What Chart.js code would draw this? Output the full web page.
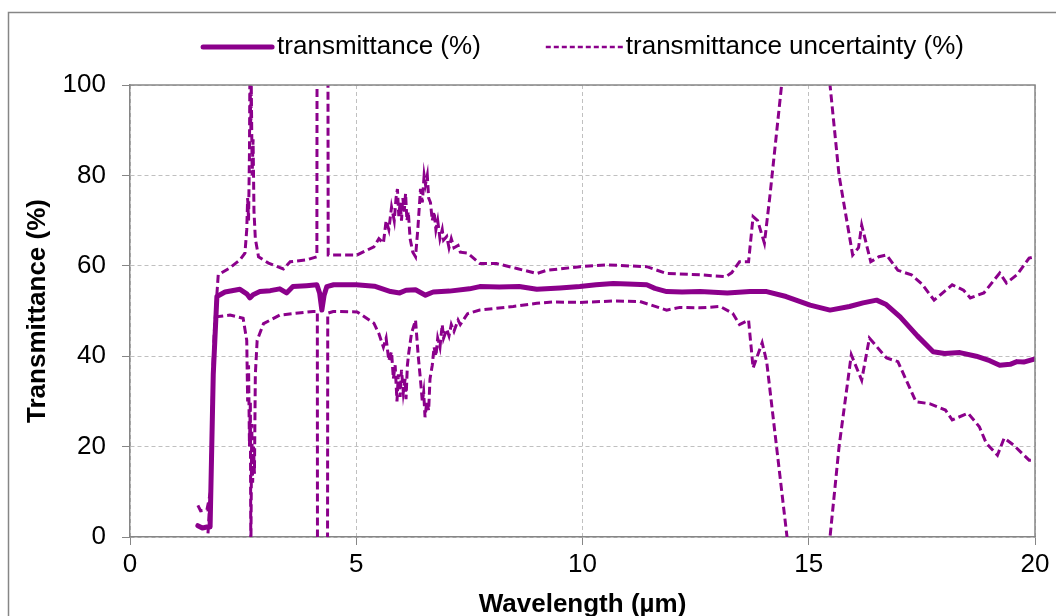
<!DOCTYPE html>
<html>
<head>
<meta charset="utf-8">
<script src="https://cdn.jsdelivr.net/npm/chart.js@4"></script>
<style>
  html, body { margin: 0; padding: 0; background: #fff; overflow: hidden; }
  #wrap { width: 1056px; height: 640px; }
</style>
</head>
<body>
<div id="wrap"><canvas id="chart"></canvas></div>
<script>
// transmittance curve
const transWl  = [1.50, 1.60, 1.70, 1.77, 1.84, 1.92, 2.10, 2.43, 2.58, 2.65, 2.72, 2.87, 3.10, 3.31, 3.46, 3.60, 3.90, 4.13, 4.19, 4.24, 4.29, 4.35, 4.50, 5.00, 5.40, 5.76, 5.96, 6.10, 6.31, 6.53, 6.70, 7.06, 7.50, 7.73, 8.16, 8.60, 8.99, 9.50, 9.94, 10.30, 10.68, 11.00, 11.42, 11.60, 11.86, 12.20, 12.60, 13.20, 13.70, 14.07, 14.50, 15.03, 15.47, 15.90, 16.20, 16.50, 16.70, 17.02, 17.40, 17.75, 18.00, 18.34, 18.70, 19.00, 19.22, 19.45, 19.60, 19.75, 20.00];
const transVal = [2.5, 2.0, 2.2, 2.2, 36, 53.2, 54.2, 54.8, 53.8, 52.9, 53.6, 54.3, 54.5, 54.9, 54.0, 55.4, 55.6, 55.8, 54.0, 50.2, 53.5, 55.4, 55.8, 55.8, 55.5, 54.3, 54.0, 54.6, 54.7, 53.5, 54.2, 54.4, 54.9, 55.4, 55.3, 55.4, 54.8, 55.1, 55.4, 55.8, 56.1, 56.0, 55.8, 55.0, 54.3, 54.2, 54.3, 54.0, 54.3, 54.3, 53.2, 51.3, 50.2, 51.0, 51.8, 52.4, 51.5, 48.7, 44.5, 41.0, 40.6, 40.8, 40.0, 39.0, 38.0, 38.2, 38.8, 38.7, 39.4];

// upper bound of uncertainty band
const upperWl  = [1.50, 1.56, 1.70, 1.78, 1.86, 1.95, 2.20, 2.43, 2.54, 2.58, 2.60, 2.62, 2.64, 2.65, 2.67, 2.68, 2.70, 2.72, 2.74, 2.77, 2.84, 3.06, 3.39, 3.54, 3.90, 4.13, 4.15, 4.35, 4.38, 5.02, 5.39, 5.50, 5.60, 5.66, 5.72, 5.78, 5.84, 5.88, 5.91, 5.94, 5.97, 6.00, 6.03, 6.06, 6.09, 6.12, 6.15, 6.19, 6.25, 6.31, 6.36, 6.42, 6.46, 6.50, 6.53, 6.57, 6.60, 6.64, 6.68, 6.72, 6.76, 6.80, 6.85, 6.90, 6.93, 7.00, 7.05, 7.10, 7.16, 7.25, 7.30, 7.46, 7.73, 8.10, 8.55, 8.99, 9.21, 9.94, 10.53, 11.42, 11.86, 12.60, 13.17, 13.30, 13.47, 13.67, 13.77, 13.87, 14.02, 14.14, 14.40, 14.95, 15.47, 15.67, 15.97, 16.10, 16.17, 16.37, 16.55, 16.72, 16.97, 17.27, 17.50, 17.77, 18.17, 18.42, 18.57, 18.87, 19.22, 19.37, 19.60, 19.87, 20.00];
const upperVal = [7.0, 5.8, 6.0, 10, 45, 58.0, 59.5, 61.3, 62.8, 68, 75, 70, 85, 104, 90, 100, 80, 88, 72, 66, 62.0, 60.6, 59.3, 60.9, 61.3, 62.0, 300, 300, 62.4, 62.4, 64.2, 66, 65, 70, 68, 73, 70, 75, 77, 71, 74, 70, 75, 72, 76, 70, 72, 66, 63, 62, 68, 77, 74, 80, 78, 80, 75, 74, 70, 72, 68, 70, 66, 68, 65.7, 66.5, 64, 66, 64, 64.5, 63, 62.8, 60.5, 60.5, 59.4, 58.3, 59.0, 59.8, 60.2, 59.8, 58.3, 58.0, 57.6, 58.5, 60.9, 60.9, 70.9, 70.0, 65.0, 75.3, 100, 160, 100, 80, 62.4, 64, 69, 60.9, 62.0, 62.4, 59.0, 58.0, 56.0, 52.4, 55.8, 54.6, 52.9, 54.0, 58.4, 56.2, 58.0, 61.7, 62.0];

// lower bound of uncertainty band
const lowerWl  = [1.55, 1.70, 1.78, 1.84, 1.90, 2.21, 2.50, 2.58, 2.60, 2.62, 2.64, 2.66, 2.67, 2.69, 2.71, 2.73, 2.75, 2.77, 2.81, 2.95, 3.31, 4.05, 4.14, 4.16, 4.34, 4.37, 4.49, 5.02, 5.39, 5.50, 5.60, 5.66, 5.72, 5.78, 5.82, 5.86, 5.90, 5.93, 5.97, 6.00, 6.04, 6.08, 6.10, 6.13, 6.16, 6.22, 6.31, 6.37, 6.42, 6.46, 6.49, 6.52, 6.56, 6.60, 6.63, 6.68, 6.72, 6.76, 6.80, 6.85, 6.90, 6.93, 7.00, 7.05, 7.10, 7.16, 7.25, 7.30, 7.46, 7.73, 8.47, 8.99, 9.35, 9.94, 10.68, 11.27, 11.86, 12.15, 12.60, 13.04, 13.32, 13.47, 13.67, 13.77, 13.97, 14.07, 14.52, 15.00, 15.47, 15.67, 15.94, 16.17, 16.34, 16.72, 16.97, 17.37, 17.67, 18.02, 18.17, 18.52, 18.77, 18.92, 19.17, 19.32, 19.52, 19.87, 20.00];
const lowerVal = [-3, -3, 10, 40, 48.7, 49.1, 48.4, 43.5, 30, 38, 20, 30, -5, 25, 12, 20, 14, 36, 43.5, 47.2, 49.1, 49.9, 49.9, -300, -300, 49.5, 49.9, 49.8, 47.3, 45, 42, 44, 39, 41, 35, 38, 30, 36, 31, 37, 32, 35, 30.5, 38, 40.7, 45, 48, 40, 34.7, 30, 32, 26.5, 30, 28, 35, 38, 42, 40, 44, 42, 47, 44, 46, 44.5, 47, 45.5, 48, 47, 49.4, 50.2, 51.0, 51.7, 52.0, 51.9, 52.2, 52.1, 50.2, 50.8, 50.7, 51.0, 49.5, 47.0, 48.0, 37.4, 43.0, 38.8, 0, -60, 0, 20, 40.3, 34.7, 44.0, 39.6, 38.8, 29.9, 29.5, 28.1, 25.9, 27.4, 24.4, 20.8, 18.1, 21.9, 20.4, 17.0, 17.0];

const xTicks = [0, 5, 10, 15, 20];
const yTicks = [0, 20, 40, 60, 80, 100];
const seriesNames = ['transmittance (%)', 'transmittance uncertainty (%)'];

const purple = '#8B008B';
const axisGrey = '#868686';
const fontFam = "'Liberation Sans', Arial, sans-serif";

function pts(xs, ys) { return xs.map((x, i) => ({x: x, y: ys[i]})); }

// outer frame + plot border + legend drawn by hand, Excel-like
const framePlugin = {
  id: 'frame',
  afterDraw(chart) {
    const ctx = chart.ctx, a = chart.chartArea;
    ctx.save();
    ctx.strokeStyle = axisGrey;
    ctx.lineWidth = 1.5;
    ctx.strokeRect(8.5, 12.5, 1200, 800);
    ctx.beginPath();
    ctx.moveTo(a.left, a.top);
    ctx.lineTo(a.right, a.top);
    ctx.lineTo(a.right, a.bottom);
    ctx.stroke();

    // legend
    ctx.font = '26px ' + fontFam;
    ctx.textBaseline = 'middle';
    ctx.fillStyle = '#000';
    const w1 = ctx.measureText(seriesNames[0]).width;
    const w2 = ctx.measureText(seriesNames[1]).width;
    const l1 = 73, l2 = 77, gap = 3, between = 65;
    const total = l1 + gap + w1 + between + l2 + gap + w2;
    let x = (a.left + a.right) / 2 - total / 2;
    const y = 47;
    ctx.strokeStyle = purple;
    ctx.lineCap = 'round';
    ctx.lineWidth = 5;
    ctx.beginPath(); ctx.moveTo(x + 2, y); ctx.lineTo(x + l1 - 2, y); ctx.stroke();
    x += l1 + gap;
    ctx.fillText(seriesNames[0], x, y);
    x += w1 + between;
    ctx.lineCap = 'butt';
    ctx.lineWidth = 2.5;
    ctx.setLineDash([5, 3]);
    ctx.beginPath(); ctx.moveTo(x, y); ctx.lineTo(x + l2, y); ctx.stroke();
    ctx.setLineDash([]);
    x += l2 + gap;
    ctx.fillText(seriesNames[1], x, y);
    ctx.restore();
  }
};

new Chart(document.getElementById('chart'), {
  type: 'line',
  data: {
    datasets: [
      {
        label: seriesNames[0],
        data: pts(transWl, transVal),
        borderColor: purple,
        borderWidth: 5,
        borderJoinStyle: 'round',
        borderCapStyle: 'round',
        pointRadius: 0,
        tension: 0,
        order: 0
      },
      {
        label: seriesNames[1],
        data: pts(upperWl, upperVal),
        borderColor: purple,
        borderWidth: 3,
        borderDash: [8, 4],
        pointRadius: 0,
        tension: 0,
        order: 1
      },
      {
        label: seriesNames[1],
        data: pts(lowerWl, lowerVal),
        borderColor: purple,
        borderWidth: 3,
        borderDash: [8, 4],
        pointRadius: 0,
        tension: 0,
        order: 1
      }
    ]
  },
  options: {
    responsive: true,
    maintainAspectRatio: false,
    animation: false,
    layout: { padding: { left: 9, right: 21, top: 85, bottom: 0 } },
    plugins: { legend: { display: false }, tooltip: { enabled: false } },
    scales: {
      x: {
        type: 'linear',
        min: 0, max: 20,
        afterBuildTicks: s => { s.ticks = xTicks.map(v => ({value: v})); },
        afterFit: s => { s.height = 103; },
        ticks: { color: '#000', font: { size: 26, family: fontFam }, padding: 4, maxRotation: 0 },
        grid: { color: '#c0c0c0', lineWidth: 1, tickColor: axisGrey, tickLength: 8 },
        border: { color: axisGrey, width: 1.5, dash: [4, 3] },
        title: { display: true, text: 'Wavelength (\u00b5m)', color: '#000', font: { size: 26, weight: 'bold', family: fontFam, lineHeight: 1.2 }, padding: { top: 0, bottom: 20 } }
      },
      y: {
        min: 0, max: 100,
        afterBuildTicks: s => { s.ticks = yTicks.map(v => ({value: v})); },
        afterFit: s => { s.width = 121; },
        ticks: { color: '#000', font: { size: 26, family: fontFam }, padding: 16 },
        grid: { color: '#c0c0c0', lineWidth: 1, tickColor: axisGrey, tickLength: 8 },
        border: { color: axisGrey, width: 1.5, dash: [4, 3] },
        title: { display: true, text: 'Transmittance (%)', color: '#000', font: { size: 26, weight: 'bold', family: fontFam, lineHeight: 1.2 }, padding: { top: 13, bottom: 0 } }
      }
    }
  },
  plugins: [framePlugin]
});
</script>
</body>
</html>
